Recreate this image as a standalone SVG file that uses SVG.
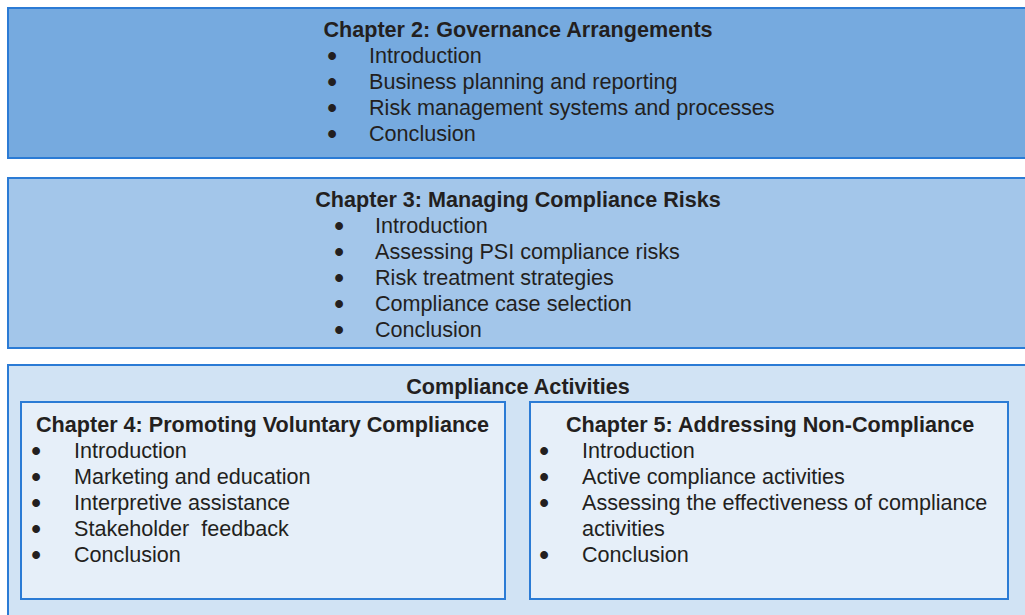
<svg xmlns="http://www.w3.org/2000/svg" width="1025" height="615" viewBox="0 0 1025 615">
<style>
.box{stroke:#2b7bd5;stroke-width:2}
.t{font-family:"Liberation Sans",Arial,sans-serif;font-size:21.6px;fill:#231f20}
.b{font-weight:bold}
.c{text-anchor:middle}
.d{font-family:"Liberation Sans",Arial,sans-serif;font-size:22px;fill:#231f20;stroke:#231f20;stroke-width:1.8;text-anchor:middle}
</style>
<rect width="1025" height="615" fill="#ffffff"/>
<g id="ch2">
<rect class="box" x="8" y="8" width="1030" height="150" fill="#76aadf"/>
<text class="t b c" x="518" y="37">Chapter 2: Governance Arrangements</text>
<text class="d" x="332" y="63">•</text><text class="d" x="332" y="89">•</text><text class="d" x="332" y="115">•</text><text class="d" x="332" y="141">•</text>
<g class="t">
<text x="369" y="63">Introduction</text>
<text x="369" y="89">Business planning and reporting</text>
<text x="369" y="115">Risk management systems and processes</text>
<text x="369" y="141">Conclusion</text>
</g>
</g>
<g id="ch3">
<rect class="box" x="8" y="178" width="1030" height="170" fill="#a3c6ea"/>
<text class="t b c" x="518" y="207">Chapter 3: Managing Compliance Risks</text>
<text class="d" x="339" y="233">•</text><text class="d" x="339" y="259">•</text><text class="d" x="339" y="285">•</text><text class="d" x="339" y="311">•</text><text class="d" x="339" y="337">•</text>
<g class="t">
<text x="375" y="233">Introduction</text>
<text x="375" y="259">Assessing PSI compliance risks</text>
<text x="375" y="285">Risk treatment strategies</text>
<text x="375" y="311">Compliance case selection</text>
<text x="375" y="337">Conclusion</text>
</g>
</g>
<g id="compliance">
<rect class="box" x="8" y="365" width="1030" height="260" fill="#d1e3f4"/>
<text class="t b c" x="518" y="394">Compliance Activities</text>
</g>
<g id="ch4">
<rect class="box" x="21" y="402" width="484" height="197" fill="#e6eff9"/>
<text class="t b" x="36" y="432">Chapter 4: Promoting Voluntary Compliance</text>
<text class="d" x="36" y="458">•</text><text class="d" x="36" y="484">•</text><text class="d" x="36" y="510">•</text><text class="d" x="36" y="536">•</text><text class="d" x="36" y="562">•</text>
<g class="t">
<text x="74" y="458">Introduction</text>
<text x="74" y="484">Marketing and education</text>
<text x="74" y="510">Interpretive assistance</text>
<text x="74" y="536" xml:space="preserve">Stakeholder  feedback</text>
<text x="74" y="562">Conclusion</text>
</g>
</g>
<g id="ch5">
<rect class="box" x="530" y="402" width="478" height="197" fill="#e6eff9"/>
<text class="t b" x="566" y="432">Chapter 5: Addressing Non-Compliance</text>
<text class="d" x="544" y="458">•</text><text class="d" x="544" y="484">•</text><text class="d" x="544" y="510">•</text><text class="d" x="544" y="562">•</text>
<g class="t">
<text x="582" y="458">Introduction</text>
<text x="582" y="484">Active compliance activities</text>
<text x="582" y="510">Assessing the effectiveness of compliance</text>
<text x="582" y="536">activities</text>
<text x="582" y="562">Conclusion</text>
</g>
</g>
<g id="connectors"/>
</svg>
